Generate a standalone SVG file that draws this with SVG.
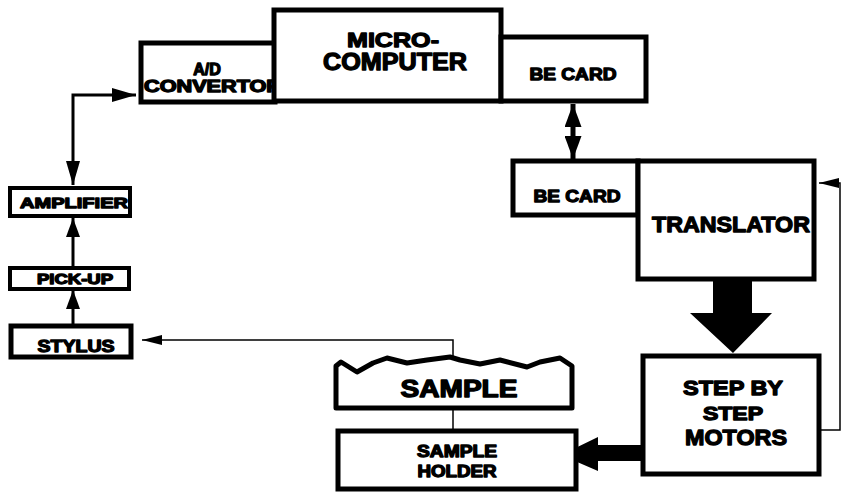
<svg xmlns="http://www.w3.org/2000/svg" width="844" height="492" viewBox="0 0 844 492">
<style>
.box{fill:#fff;stroke:#000;stroke-width:5}
.sbox{fill:#fff;stroke:#000;stroke-width:4}
.t{font-family:"Liberation Sans",Arial,sans-serif;font-weight:bold;fill:#000;stroke:#000;stroke-width:1.3;stroke-linejoin:round;text-anchor:middle}
.thin{fill:none;stroke:#000;stroke-width:1.5}
.mid{fill:none;stroke:#000;stroke-width:3}
</style>
<defs>
<marker id="ah" viewBox="0 0 20 10" refX="20" refY="5" markerWidth="20" markerHeight="10" markerUnits="userSpaceOnUse" orient="auto">
<path d="M0,0 L20,5 L0,10 Z" fill="#000"/>
</marker>
<marker id="ahb" viewBox="0 0 24 14" refX="24" refY="7" markerWidth="24" markerHeight="14" markerUnits="userSpaceOnUse" orient="auto-start-reverse">
<path d="M0,0 L24,7 L0,14 Z" fill="#000"/>
</marker>
<marker id="ahs" viewBox="0 0 19 14" refX="19" refY="7" markerWidth="19" markerHeight="14" markerUnits="userSpaceOnUse" orient="auto">
<path d="M0,0 L19,7 L0,14 Z" fill="#000"/>
</marker>
<marker id="ahd" viewBox="0 0 23 17" refX="23" refY="8.5" markerWidth="23" markerHeight="17" markerUnits="userSpaceOnUse" orient="auto-start-reverse">
<path d="M0,0 L23,8.5 L0,17 Z" fill="#000"/>
</marker>
</defs>
<g id="connectors">
<path class="mid" d="M73,185 L73,95 L136,95" marker-start="url(#ahb)" marker-end="url(#ahb)"/>
<path class="mid" d="M73,266 L73,218" marker-end="url(#ahs)"/>
<path class="mid" d="M73,324 L73,290" marker-end="url(#ahs)"/>
<path d="M573,104 L573,159" fill="none" stroke="#000" stroke-width="5" marker-start="url(#ahd)" marker-end="url(#ahd)"/>
<path class="thin" d="M453,362 L453,340 L142,340" marker-end="url(#ah)"/>
<path class="thin" d="M453,408 L453,430"/>
<path class="thin" d="M820,430 L840,430 L840,183 L819,183" marker-end="url(#ah)"/>
<path d="M713,280 L752,280 L752,313 L772,313 L733,353 L690,313 L713,313 Z" fill="#000"/>
<path d="M642,445 L598,445 L598,437 L561,455 L598,471 L598,461 L642,461 Z" fill="#000"/>
</g>
<g id="ad">
<rect class="box" x="141" y="43" width="134" height="59"/>
<text class="t" x="207" y="75" font-size="16">A/D</text>
<text class="t" x="213" y="92" font-size="16" textLength="138" lengthAdjust="spacingAndGlyphs">CONVERTOR</text>
</g>
<g id="micro">
<rect class="box" x="274" y="10" width="227" height="91"/>
<text class="t" x="393" y="47" font-size="21" textLength="92" lengthAdjust="spacingAndGlyphs">MICRO-</text>
<text class="t" x="395" y="70" font-size="23" textLength="144" lengthAdjust="spacingAndGlyphs">COMPUTER</text>
</g>
<g id="becard1">
<rect class="box" x="501" y="37" width="145" height="64"/>
<text class="t" x="573" y="80" font-size="17" textLength="87" lengthAdjust="spacingAndGlyphs">BE CARD</text>
</g>
<g id="becard2">
<rect class="box" x="513" y="161" width="125" height="54"/>
<text class="t" x="577" y="202" font-size="17" textLength="87" lengthAdjust="spacingAndGlyphs">BE CARD</text>
</g>
<g id="translator">
<rect class="box" x="638" y="161" width="176" height="118"/>
<text class="t" x="731" y="232" font-size="22" textLength="158" lengthAdjust="spacingAndGlyphs">TRANSLATOR</text>
</g>
<g id="motors">
<rect class="box" x="643" y="356" width="176" height="118"/>
<text class="t" x="733" y="395" font-size="20" textLength="100" lengthAdjust="spacingAndGlyphs">STEP BY</text>
<text class="t" x="733" y="420" font-size="18" textLength="60" lengthAdjust="spacingAndGlyphs">STEP</text>
<text class="t" x="736" y="445" font-size="22" textLength="102" lengthAdjust="spacingAndGlyphs">MOTORS</text>
</g>
<g id="sample">
<path d="M336,408 L336,366 L341,362 L357,372 L373,363 L387,358 L407,363 L427,360 L450,357 L460,360 L480,364 L500,360 L527,367 L540,362 L560,358 L572,366 L572,408 Z" fill="#fff" stroke="#000" stroke-width="5" stroke-linejoin="round"/>
<text class="t" x="459" y="397" font-size="23" textLength="117" lengthAdjust="spacingAndGlyphs">SAMPLE</text>
</g>
<g id="holder">
<rect class="box" x="338" y="431" width="238" height="58"/>
<text class="t" x="457" y="457" font-size="16" textLength="80" lengthAdjust="spacingAndGlyphs">SAMPLE</text>
<text class="t" x="457" y="477" font-size="16" textLength="79" lengthAdjust="spacingAndGlyphs">HOLDER</text>
</g>
<g id="amplifier">
<rect class="sbox" x="10" y="188" width="120" height="28"/>
<text class="t" x="74" y="208" font-size="15" textLength="108" lengthAdjust="spacingAndGlyphs">AMPLIFIER</text>
</g>
<g id="pickup">
<rect class="sbox" x="10" y="268" width="119" height="21"/>
<text class="t" x="75" y="284" font-size="14" textLength="76" lengthAdjust="spacingAndGlyphs">PICK-UP</text>
</g>
<g id="stylus">
<rect class="box" x="11" y="326" width="120" height="31"/>
<text class="t" x="76" y="352" font-size="16" textLength="77" lengthAdjust="spacingAndGlyphs">STYLUS</text>
</g>
</svg>
